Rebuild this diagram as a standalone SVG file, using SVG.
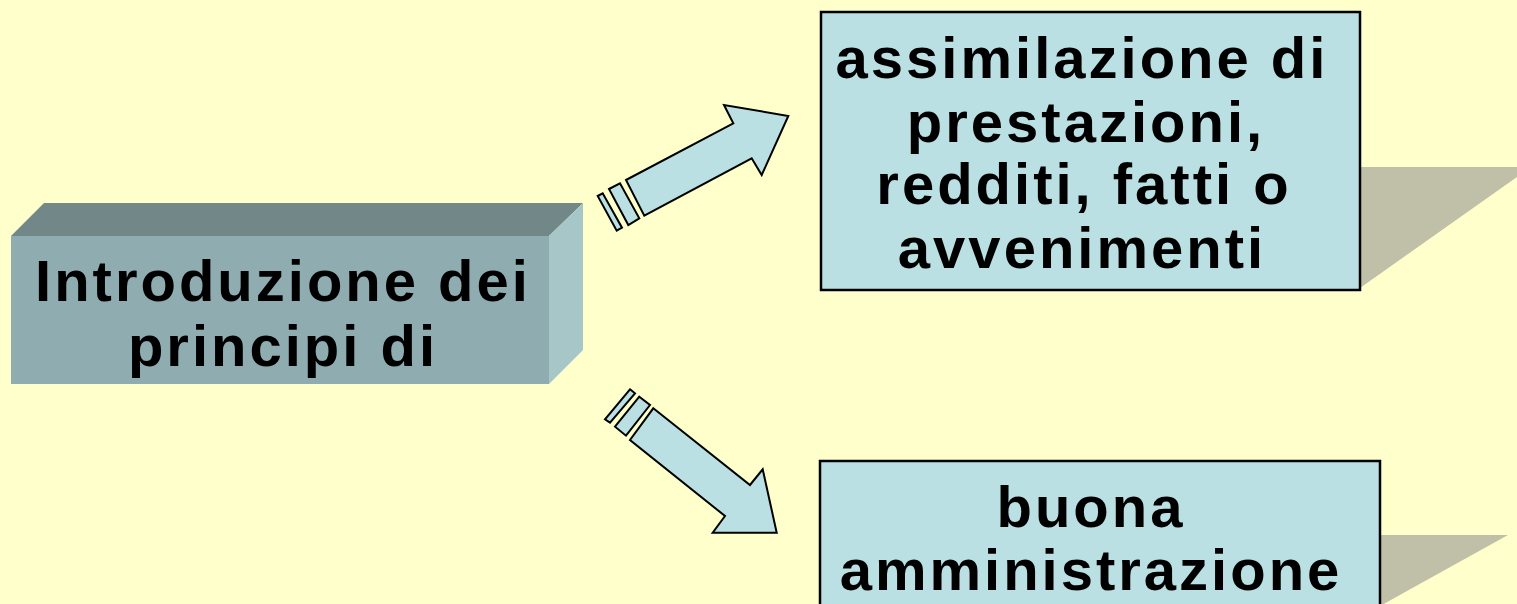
<svg xmlns="http://www.w3.org/2000/svg" width="1517" height="604" viewBox="0 0 1517 604">
  <style>
    .label { font-family: "Liberation Sans", Arial, sans-serif; font-weight: bold; font-size: 58px; letter-spacing: 3px; fill: #000; text-anchor: middle; }
    .box { fill: #BBE0E3; stroke: #000; stroke-width: 2.5; }
    .shadow { fill: #C0C0A8; }
    .arrow { fill: #BBE0E3; stroke: #000; stroke-width: 2; stroke-linejoin: miter; }
  </style>
  <rect x="0" y="0" width="1517" height="604" fill="#FFFFCC"/>

  <!-- 3D block on the left -->
  <g id="node-introduzione">
    <polygon points="11,236 44,203 583,203 549,236" fill="#718788"/>
    <polygon points="549,236 583,203 583,350 549,384" fill="#A6C6C8"/>
    <rect x="11" y="236" width="538" height="148" fill="#8FADB0"/>
    <text class="label" x="283" y="301">Introduzione dei</text>
    <text class="label" x="283" y="366">principi di</text>
  </g>

  <!-- upper-right box with its shadow -->
  <g id="node-assimilazione">
    <polygon class="shadow" points="1360,167 1531,167 1360,288"/>
    <rect class="box" x="821" y="12" width="539" height="278"/>
    <text class="label" x="1082" y="78">assimilazione di</text>
    <text class="label" x="1086" y="142">prestazioni,</text>
    <text class="label" x="1084" y="204">redditi, fatti o</text>
    <text class="label" x="1082" y="268">avvenimenti</text>
  </g>

  <!-- lower-right box with its shadow -->
  <g id="node-buona-amministrazione">
    <polygon class="shadow" points="1380,535 1508,535 1380,606"/>
    <rect class="box" x="820" y="461" width="560" height="150"/>
    <text class="label" x="1091" y="527">buona</text>
    <text class="label" x="1091" y="590">amministrazione</text>
  </g>

  <!-- striped block arrows -->
  <g id="connectors">
    <g id="arrow-up">
      <polygon class="arrow" points="597.7,196 602.7,193.3 622,227.7 616.7,230.7"/>
      <polygon class="arrow" points="609,189 620,183.3 639.3,218.3 628.3,225"/>
      <polygon class="arrow" points="626,180 733.3,123.3 724,105 788.3,116 761.7,175 751.7,158.3 644.3,215.7"/>
    </g>
    <g id="arrow-down">
      <polygon class="arrow" points="630,389.3 635,393.3 610,422.7 605,419.3"/>
      <polygon class="arrow" points="639.3,396.7 650,405 626,435.7 615,426.7"/>
      <polygon class="arrow" points="653.3,408.3 750,485 762.7,469.3 776.7,532.7 712.7,532.7 725,516 630,440"/>
    </g>
  </g>
</svg>
